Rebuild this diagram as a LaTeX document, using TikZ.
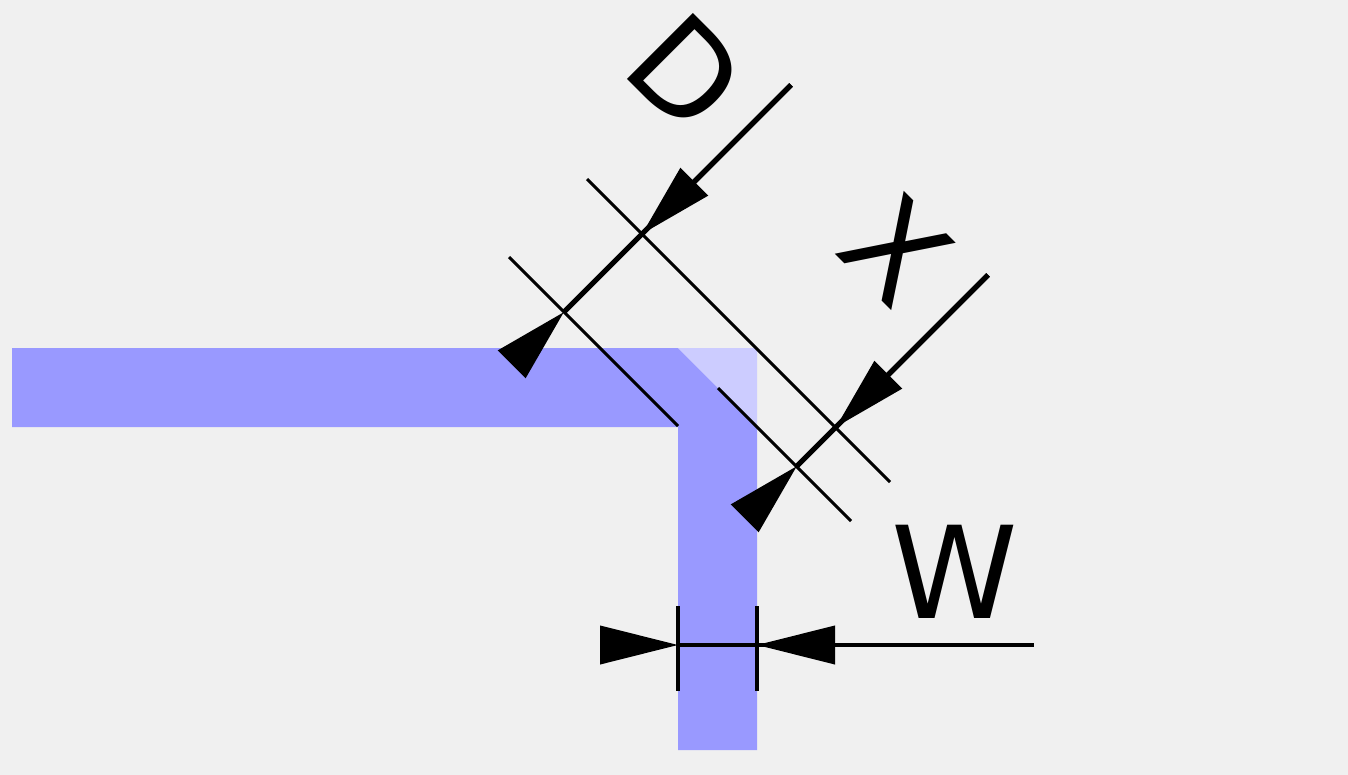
\documentclass[tikz,border=0pt]{standalone}
\usepackage{fontspec}
\setmainfont{DejaVu Sans}
\usetikzlibrary{arrows.meta}
\definecolor{bg}{HTML}{F0F0F0}
\definecolor{trace}{HTML}{9999FF}
\definecolor{tracelt}{HTML}{CCCCFF}
\begin{document}
\begin{tikzpicture}[x=1pt,y=-1pt,
  thinline/.style={line width=3pt,black},
  dimline/.style={line width=5pt,black},
  tip/.style={-{Triangle[length=74pt,width=38pt]},line width=5pt},
  lbl/.style={font=\fontsize{128}{128}\selectfont,inner sep=0pt}]
\fill[bg] (0,0) rectangle (1348,775);
\useasboundingbox (0,0) rectangle (1348,775);
\fill[trace] (12,348) -- (678,348) -- (757,427) -- (757,750) -- (678,750) -- (678,427) -- (12,427) -- cycle;
\fill[tracelt] (678,348) -- (757,348) -- (757,427) -- cycle;
% extension lines
\draw[thinline] (509,257) -- (678,426);
\draw[thinline] (587,179) -- (890,482);
\draw[thinline] (718,388) -- (851,521);
% D
\coordinate (d0) at (791,85); \coordinate (d1) at (642,234);
\coordinate (d2) at (564,312); \coordinate (d3) at (514,362);
\draw[dimline] (d0) -- (d2);
\draw[tip] (d0) -- (d1);
\draw[tip] (d3) -- (d2);
% X
\coordinate (x0) at (988,275); \coordinate (x1) at (836,427);
\coordinate (x2) at (797,466); \coordinate (x3) at (747,516);
\draw[dimline] (x0) -- (x2);
\draw[tip] (x0) -- (x1);
\draw[tip] (x3) -- (x2);
% W
\draw[line width=4pt] (678,606) -- (678,691);
\draw[line width=4pt] (757,606) -- (757,691);
\coordinate (w0) at (600,645); \coordinate (w1) at (678,645);
\coordinate (w2) at (757,645); \coordinate (w3) at (1034,645);
\draw[line width=4pt] (w1) -- (w3);
\draw[-{Triangle[length=78pt,width=38pt]},line width=4pt] (w0) -- (w1);
\draw[-{Triangle[length=78pt,width=38pt]},line width=4pt] (835,645) -- (w2);
\node[lbl,rotate=-45] (D) at (686,72) {D};
\node[lbl,rotate=-45] (X) at (896,250) {X};
\node[lbl] (W) at (955,572) {W};
\end{tikzpicture}
\end{document}
